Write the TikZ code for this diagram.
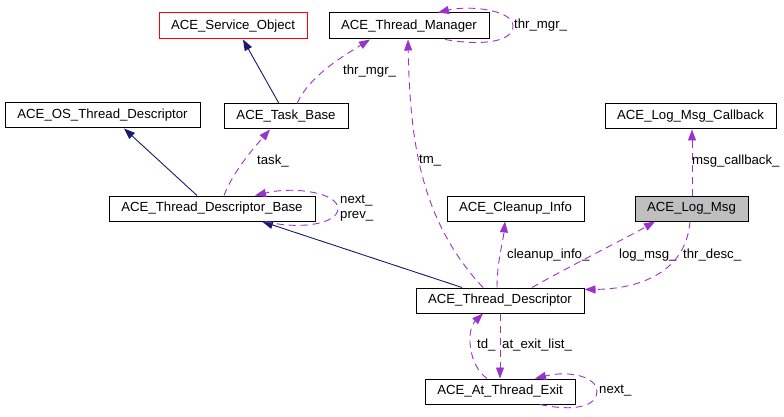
\documentclass[tikz,border=0pt]{standalone}
\usepackage{fontspec}
\setmainfont{Liberation Sans}
\usetikzlibrary{arrows.meta}
\definecolor{edgepurple}{HTML}{9A32CD}
\definecolor{inhnavy}{HTML}{191970}
\definecolor{grayfill}{HTML}{BFBFBF}
\begin{document}
\begin{tikzpicture}[x=1pt,y=-1pt,
  box/.style={draw=black, line width=1pt, minimum height=25pt, inner sep=0pt,
    font=\fontsize{13.2}{15}\selectfont, fill=white},
  lbl/.style={font=\fontsize{13.2}{15}\selectfont, inner sep=0pt, anchor=west},
  inh/.style={draw=inhnavy, line width=0.9pt, -{Triangle[length=11pt,width=8pt]}},
  use/.style={draw=edgepurple, line width=0.9pt, dash pattern=on 7pt off 5pt,
    -{Triangle[length=11pt,width=8pt]}},
]
\fill[white] (0,0) rectangle (784,417);
\useasboundingbox (0,0) rectangle (784,417);

% nodes
\node[box, minimum width=148pt, minimum height=26pt, draw=red] (svc) at (233,26) {ACE\_Service\_Object};
\node[box, minimum width=160pt, minimum height=26pt] (mgr) at (409,26) {ACE\_Thread\_Manager};
\node[box, minimum width=195pt] (os) at (102.5,115.5) {ACE\_OS\_Thread\_Descriptor};
\node[box, minimum width=124pt] (task) at (286,116.5) {ACE\_Task\_Base};
\node[box, minimum width=171pt] (cb) at (690.5,116.5) {ACE\_Log\_Msg\_Callback};
\node[box, minimum width=206pt] (tdb) at (212,208.5) {ACE\_Thread\_Descriptor\_Base};
\node[box, minimum width=137pt] (clean) at (515.5,208.5) {ACE\_Cleanup\_Info};
\node[box, minimum width=113pt, fill=grayfill] (lm) at (691.5,208.5) {ACE\_Log\_Msg};
\node[box, minimum width=168pt] (td) at (500,300.5) {ACE\_Thread\_Descriptor};
\node[box, minimum width=150pt] (ate) at (500,391.5) {ACE\_At\_Thread\_Exit};

% inheritance
\draw[inh] ([xshift=-7pt]task.north) -- ([xshift=10pt]svc.south);
\draw[inh] ([xshift=-15pt]tdb.north) -- ([xshift=21.5pt]os.south);
\draw[inh] ([xshift=-38pt]td.north) -- ([xshift=50pt]tdb.south);

% usage
\draw[use] ([xshift=11pt]task.north) .. controls (310,75) and (345,55) .. ([xshift=-39pt]mgr.south);
\node[lbl] (l1) at (343,71) {thr\_mgr\_};

\draw[use] ([xshift=36pt]mgr.south) .. controls (482,46) and (513,42) .. (513,26)
  .. controls (513,10) and (470,5) .. ([xshift=29pt]mgr.north);
\node[lbl] (l2) at (514,25) {thr\_mgr\_};

\draw[use] ([xshift=12pt]tdb.north) .. controls (233,172) and (252,150) .. ([xshift=-16pt]task.south);
\node[lbl] (l3) at (257,161) {task\_};

\draw[use] ([xshift=53pt]tdb.south) .. controls (300,230) and (338,224) .. (338,208.5)
  .. controls (338,193) and (295,186) .. ([xshift=43pt]tdb.north);
\node[lbl, align=left] (l4) at (340,208.5) {next\_\\prev\_};

\draw[use] ([xshift=-17pt]td.north) .. controls (420,220) and (410,140) .. ([xshift=-1pt]mgr.south);
\node[lbl] (l5) at (419,161) {tm\_};

\draw[use] ([xshift=-3pt]td.north) .. controls (497,262) and (503,242) .. ([xshift=-10.5pt]clean.south);
\node[lbl] (l6) at (507,255) {cleanup\_info\_};

\draw[use] ([xshift=32pt]td.north) .. controls (570,266) and (630,236) .. ([xshift=-36.5pt]lm.south);
\node[lbl] (l7) at (619,255) {log\_msg\_};

\draw[use] ([xshift=-1.5pt]lm.south) .. controls (686,272) and (640,289) .. ([yshift=-2pt]td.north east);
\node[lbl] (l8) at (683,255) {thr\_desc\_};

\draw[use] ([xshift=0.5pt]lm.north) -- ([xshift=1.5pt]cb.south);
\node[lbl] (l9) at (692,161) {msg\_callback\_};

\draw[use] ([xshift=-13pt]ate.north) .. controls (468,365) and (466,330) .. ([xshift=-17pt]td.south);
\node[lbl] (l10) at (477,345) {td\_};

\draw[use] (td.south) -- (ate.north);
\node[lbl] (l11) at (502,345) {at\_exit\_list\_};

\draw[use] ([xshift=40pt]ate.south) .. controls (575,412) and (597,406) .. (597,391.5)
  .. controls (597,377) and (570,370) .. ([xshift=35pt]ate.north);
\node[lbl] (l12) at (599,391) {next\_};
\end{tikzpicture}
\end{document}
